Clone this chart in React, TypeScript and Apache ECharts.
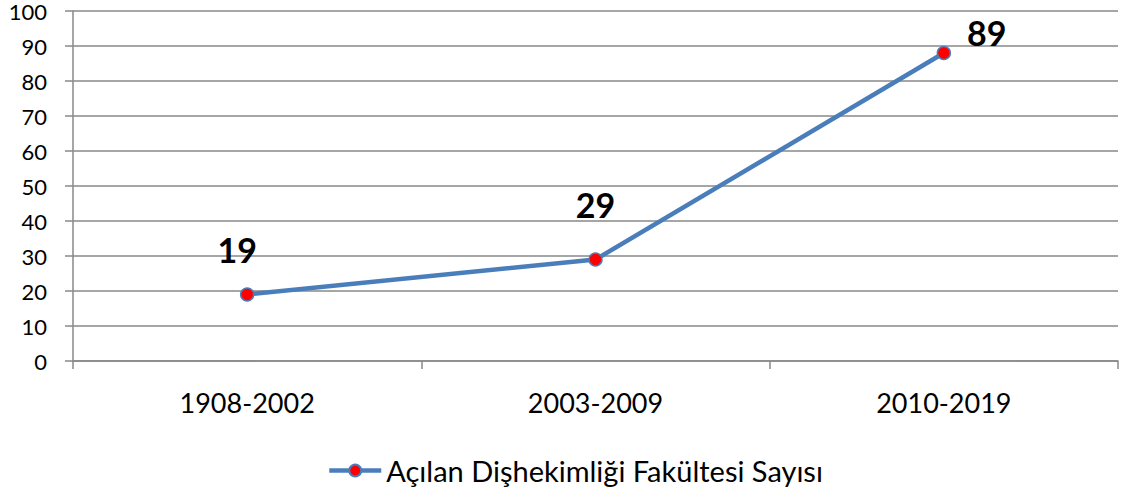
import React, { useEffect, useRef } from "react";
import * as echarts from "echarts";

const categories = ["1908-2002", "2003-2009", "2010-2019"];
const values = [19, 29, 88];
const labelTexts = ["19", "29", "89"];
const labelOffsets: [number, number][] = [[-10, -45], [0, -55], [43, -21]];
const seriesName = "Açılan Dişhekimliği Fakültesi Sayısı";
const FONT = "Lato";
const BLUE = "#4a7ebb";

export default function App() {
  const ref = useRef<HTMLDivElement>(null);
  useEffect(() => {
    if (!ref.current) return;
    const chart = echarts.init(ref.current, undefined, { renderer: "svg" });
    chart.setOption({
      animation: false,
      grid: { left: 73, right: 3, top: 11, bottom: 137 },
      legend: {
        data: [seriesName],
        top: 451,
        left: 322,
        itemWidth: 52,
        itemHeight: 15,
        itemGap: 4,
        lineStyle: { width: 4.5 },
        textStyle: { fontFamily: FONT, fontSize: 29, color: "#000" },
      },
      xAxis: {
        type: "category",
        data: categories,
        boundaryGap: true,
        axisLine: { lineStyle: { color: "#888", width: 1.5 } },
        axisTick: { show: true, length: 8, lineStyle: { color: "#888", width: 1.5 } },
        axisLabel: { fontFamily: FONT, fontSize: 27, color: "#000", margin: 28 },
      },
      yAxis: {
        type: "value",
        min: 0,
        max: 100,
        interval: 10,
        axisLine: { show: true, lineStyle: { color: "#888", width: 1.5 } },
        axisTick: { show: true, length: 8, lineStyle: { color: "#888", width: 1.5 } },
        axisLabel: { fontFamily: FONT, fontSize: 22, lineHeight: 18, color: "#000", margin: 26 },
        splitLine: { lineStyle: { color: "#888", width: 1.5 } },
      },
      series: [
        {
          name: seriesName,
          type: "line",
          data: values.map((v, i) => ({
            value: v,
            label: {
              show: true,
              position: "inside",
              offset: labelOffsets[i],
              formatter: labelTexts[i],
              fontFamily: FONT,
              fontSize: 34,
              fontWeight: "bold",
              color: "#000",
            },
          })),
          symbol: "circle",
          symbolSize: 13,
          lineStyle: { color: BLUE, width: 4.5 },
          itemStyle: { color: "#ff0000", borderColor: BLUE, borderWidth: 1.5 },
        },
      ],
    });
    return () => chart.dispose();
  }, []);
  return (
    <div
      ref={ref}
      style={{ position: "absolute", left: 0, top: 0, width: 1121, height: 498 }}
    />
  );
}
